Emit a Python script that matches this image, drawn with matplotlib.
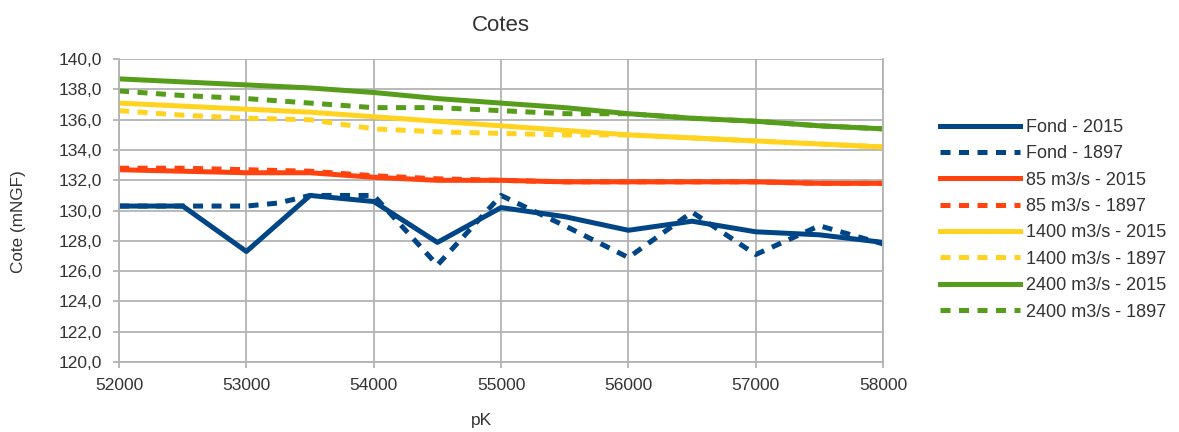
import matplotlib
matplotlib.use("Agg")
import matplotlib.pyplot as plt
from matplotlib.ticker import FuncFormatter

plt.rcParams['font.family'] = ['Liberation Sans', 'DejaVu Sans']

# data
pk = [52000, 52500, 53000, 53500, 54000, 54500, 55000, 55500, 56000, 56500, 57000, 57500, 58000]

fond2015 = [130.3, 130.3, 127.3, 131.0, 130.6, 127.9, 130.2, 129.6, 128.7, 129.3, 128.6, 128.4, 127.9]

pk1897 = [52000, 52500, 53000, 53250, 53500, 54000, 54500, 55000, 55500, 56000, 56500, 57000, 57500, 58000]
fond1897 = [130.3, 130.3, 130.3, 130.5, 131.0, 131.0, 126.4, 131.0, 129.0, 126.9, 129.9, 127.1, 129.0, 127.8]

q85_2015 = [132.7, 132.6, 132.5, 132.5, 132.2, 132.0, 132.0, 131.9, 131.9, 131.9, 131.9, 131.8, 131.8]
q85_1897 = [132.8, 132.8, 132.7, 132.6, 132.3, 132.1, 132.0, 131.9, 131.9, 131.9, 131.9, 131.8, 131.8]

q1400_2015 = [137.1, 136.9, 136.7, 136.5, 136.2, 135.9, 135.6, 135.3, 135.0, 134.8, 134.6, 134.4, 134.2]
q1400_1897 = [136.6, 136.3, 136.1, 136.0, 135.4, 135.2, 135.1, 135.0, 135.0, 134.8, 134.6, 134.4, 134.2]

q2400_2015 = [138.7, 138.5, 138.3, 138.1, 137.8, 137.4, 137.1, 136.8, 136.4, 136.1, 135.9, 135.6, 135.4]
q2400_1897 = [137.9, 137.6, 137.4, 137.1, 136.8, 136.8, 136.6, 136.4, 136.4, 136.1, 135.9, 135.6, 135.4]

blue = "#004586"
red = "#ff420e"
yellow = "#ffd320"
green = "#579d1c"
grid = "#b3b3b3"
txt = "#333333"

fig = plt.figure(figsize=(11.79, 4.32), dpi=100)
ax = fig.add_axes([0.101, 0.162, 0.648, 0.701])

lw = 3.6
dash = (0, (2.0, 1.7))
ax.plot(pk, fond2015, color=blue, lw=lw, label="Fond - 2015")
ax.plot(pk1897, fond1897, color=blue, lw=lw, ls=dash, label="Fond - 1897")
ax.plot(pk, q85_2015, color=red, lw=lw, label="85 m3/s - 2015")
ax.plot(pk, q85_1897, color=red, lw=lw, ls=dash, label="85 m3/s - 1897")
ax.plot(pk, q1400_2015, color=yellow, lw=lw, label="1400 m3/s - 2015")
ax.plot(pk, q1400_1897, color=yellow, lw=lw, ls=dash, label="1400 m3/s - 1897")
ax.plot(pk, q2400_2015, color=green, lw=lw, label="2400 m3/s - 2015")
ax.plot(pk, q2400_1897, color=green, lw=lw, ls=dash, label="2400 m3/s - 1897")

ax.set_xlim(52000, 58000)
ax.set_ylim(120, 140)
ax.set_xticks(range(52000, 58001, 1000))
ax.set_yticks(range(120, 141, 2))
ax.yaxis.set_major_formatter(FuncFormatter(lambda v, p: f"{v:.1f}".replace(".", ",")))
ax.grid(True, color=grid, lw=1.3)
ax.set_axisbelow(True)
for s in ax.spines.values():
    s.set_color(grid)
    s.set_linewidth(1.3)
ax.spines['top'].set_visible(False)
ax.tick_params(colors=grid, labelcolor=txt, labelsize=12.5, length=4, width=1.3)
ax.tick_params(axis='x', pad=7.5)
ax.tick_params(axis='y', pad=8)

ax.set_title("Cotes", fontsize=16, color=txt, pad=20)
ax.set_xlabel("pK", fontsize=12.5, color=txt)
ax.set_ylabel("Cote (mNGF)", fontsize=12.3, color=txt)
ax.xaxis.set_label_coords(0.475, -0.168)
ax.yaxis.set_label_coords(-0.122, 0.465)

ax.legend(loc="center left", bbox_to_anchor=(1.053, 0.47), frameon=False, fontsize=13,
          handlelength=4.45, handletextpad=0.35, labelspacing=0.52, labelcolor=txt)

fig.savefig("out.png", dpi=100)
